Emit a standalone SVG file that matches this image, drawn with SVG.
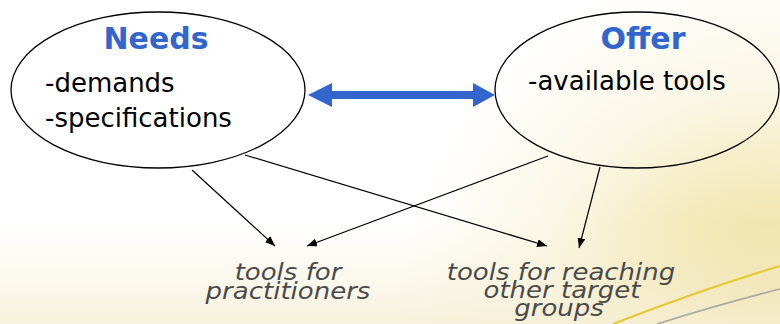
<svg xmlns="http://www.w3.org/2000/svg" width="780" height="324" viewBox="0 0 780 324">
  <defs>
    <radialGradient id="glow" cx="770" cy="330" r="440" gradientUnits="userSpaceOnUse">
      <stop offset="0" stop-color="#ead98a"/>
      <stop offset="0.25" stop-color="#f2e6b0"/>
      <stop offset="0.55" stop-color="#fbf7e6"/>
      <stop offset="0.85" stop-color="#ffffff"/>
    </radialGradient>
    <linearGradient id="cream" x1="0" y1="220" x2="0" y2="324" gradientUnits="userSpaceOnUse">
      <stop offset="0" stop-color="#f8f3df" stop-opacity="0"/>
      <stop offset="1" stop-color="#f6efd6" stop-opacity="0.85"/>
    </linearGradient>
    <marker id="arr" viewBox="0 0 10 8" refX="10" refY="4" markerWidth="10" markerHeight="8" markerUnits="userSpaceOnUse" orient="auto">
      <path d="M0,0 L10,4 L0,8 Z" fill="#000"/>
    </marker>
    <style>
      .node { fill: none; stroke: #000; stroke-width: 1.3; }
      .title { font-family: "DejaVu Sans", Verdana, sans-serif; font-weight: bold; font-size: 30px; fill: #3366cc; text-anchor: middle; }
      .item { font-family: "DejaVu Sans", Verdana, sans-serif; font-size: 26px; fill: #000; }
      .out { font-family: "DejaVu Sans", Verdana, sans-serif; font-style: italic; font-size: 26px; fill: #4a4a4a; text-anchor: middle; }
      .conn { stroke: #000; stroke-width: 1.2; fill: none; marker-end: url(#arr); }
    </style>
  </defs>

  <g id="background">
    <rect x="0" y="0" width="780" height="324" fill="url(#glow)"/>
    <rect x="0" y="220" width="780" height="104" fill="url(#cream)"/>
    <path d="M613,324 Q700,290 780,266" fill="none" stroke="#e6c935" stroke-width="2"/>
    <path d="M657,324 Q720,304 780,289" fill="none" stroke="#aaa8a0" stroke-width="1.6"/>
  </g>

  <g id="connectors">
    <path d="M308,95 L332,83 L332,91 L473,91 L473,83 L495,95 L473,107 L473,99 L332,99 L332,107 Z" fill="#3366cc"/>
    <line class="conn" x1="192" y1="170" x2="275" y2="246"/>
    <line class="conn" x1="245" y1="155" x2="547" y2="246"/>
    <line class="conn" x1="548" y1="156" x2="307" y2="246"/>
    <line class="conn" x1="600" y1="167" x2="579" y2="248"/>
  </g>

  <g id="needs">
    <ellipse class="node" cx="158" cy="90" rx="147" ry="78"/>
    <text class="title" x="156" y="49">Needs</text>
    <text class="item" x="45" y="92">-demands</text>
    <text class="item" x="45" y="127">-specifications</text>
  </g>

  <g id="offer">
    <ellipse class="node" cx="637" cy="90" rx="142" ry="78"/>
    <text class="title" x="643" y="49">Offer</text>
    <text class="item" x="528" y="90">-available tools</text>
  </g>

  <g id="practitioners">
    <text class="out" transform="translate(288,280) scale(1,0.9)">tools for</text>
    <text class="out" transform="translate(288,299) scale(1,0.9)">practitioners</text>
  </g>

  <g id="target-groups">
    <text class="out" transform="translate(561,280) scale(1,0.9)">tools for reaching</text>
    <text class="out" transform="translate(562,298) scale(1,0.9)">other target</text>
    <text class="out" transform="translate(559,316) scale(1,0.9)">groups</text>
  </g>
</svg>
